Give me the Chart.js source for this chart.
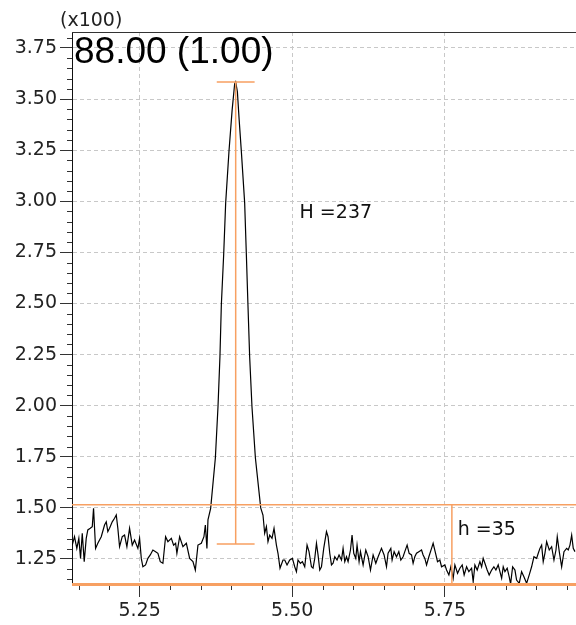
<!DOCTYPE html>
<html>
<head>
<meta charset="utf-8">
<script src="https://cdn.jsdelivr.net/npm/chart.js"></script>
<style>
  html, body { margin: 0; padding: 0; background: #fff; }
  #wrap { width: 576px; height: 625px; }
</style>
</head>
<body>
<div id="wrap"><canvas id="chrom" width="576" height="625"></canvas></div>
<script>
// chromatogram trace, intensity in units of x100
const retentionTime = [
  5.1397,5.1434,5.1472,5.1505,5.1533,5.1561,5.1593,5.1626,5.1652,5.1692,
  5.1725,5.1746,5.1779,5.1816,5.1872,5.1926,5.1954,5.198,5.2008,5.2052,
  5.209,5.2118,5.2144,5.2172,5.2216,5.2254,5.2292,5.2336,5.238,5.2418,
  5.2472,5.25,5.2528,5.2554,5.2598,5.2636,5.2675,5.2718,5.2762,5.28,
  5.2839,5.2882,5.2926,5.2964,5.302,5.3057,5.309,5.3111,5.3156,
  5.321,5.3266,5.332,5.3374,5.3413,5.3456,5.3511,5.3554,5.3577,5.3603,5.362,5.3664,
  5.3741,5.3784,5.3816,5.3839,5.3877,5.391,5.3964,5.4016,5.4057,5.4074,
  5.4102,5.4131,5.4167,5.4221,5.4249,5.4275,5.4303,5.4341,5.4397,5.4484,
  5.4521,5.4549,5.4577,5.4603,5.4631,5.4669,5.4702,5.4741,5.4767,5.48,5.4849,
  5.4877,5.4915,5.4959,5.5003,5.5041,5.5069,5.5095,5.5134,5.5167,5.5205,
  5.5243,5.5275,5.5315,5.5341,5.5369,5.5397,5.5423,5.5451,5.5479,5.5516,
  5.5561,5.5587,5.5615,5.5643,5.5669,5.5697,5.5734,5.5767,5.5807,5.5833,
  5.5861,5.5889,5.5915,5.5954,5.598,5.6008,5.6041,5.6062,5.6095,5.6118,
  5.6161,5.6205,5.6243,5.6282,5.6325,5.6369,5.6407,
  5.6462,5.6505,5.6544,5.657,5.6615,5.6636,5.6669,5.6708,5.6746,5.6779,
  5.6816,5.6844,5.6882,5.6915,5.6954,5.698,5.7008,5.7036,5.7074,5.7118,
  5.7144,5.7172,5.72,5.7238,5.7282,5.7308,5.7348,5.738,5.7418,5.7446,
  5.75,5.7528,5.7566,5.7598,5.7636,5.7664,5.7708,5.7746,5.7784,5.7816,
  5.7856,5.7893,
  5.7938,5.7964,5.7992,5.803,5.8074,5.8102,5.8128,5.8156,5.8193,5.8226,
  5.8266,5.8303,5.8336,5.8374,5.8402,5.843,5.8456,5.8484,5.8521,5.8554,
  5.8577,5.861,5.8648,5.8675,5.8718,5.8757,5.8795,5.8839,5.8882,5.8921,
  5.8959,5.9003,5.903,5.9057,5.9085,5.9111,5.9139,5.9167,5.921,5.9249,
  5.9287,5.932,5.9341,5.9374,5.9413,5.9451,5.9495,5.9521,5.9549,5.9577,
  5.9603,5.9631
];
const intensity = [
  1.318,1.359,1.302,1.351,1.253,1.376,1.237,1.351,1.392,1.400,
  1.408,1.498,1.302,1.327,1.359,1.416,1.432,1.384,1.400,1.432,
  1.449,1.465,1.400,1.310,1.359,1.367,1.310,1.400,1.318,1.343,
  1.302,1.351,1.253,1.212,1.221,1.253,1.270,1.294,1.286,1.278,
  1.237,1.229,1.359,1.335,1.351,1.318,1.327,1.278,1.359,
  1.310,1.327,1.253,1.237,1.196,1.318,1.327,1.359,1.416,1.302,1.441,1.498,
  1.744,1.994,2.238,2.493,2.737,2.992,3.243,3.447,3.574,3.584,
  3.535,3.398,3.243,2.992,2.737,2.493,2.238,1.994,1.744,1.500,
  1.465,1.376,1.408,1.335,1.367,1.351,1.400,1.318,1.278,1.205,1.245,
  1.245,1.221,1.245,1.253,1.212,1.188,1.245,1.229,1.237,1.212,
  1.318,1.286,1.212,1.205,1.253,1.327,1.270,1.196,1.212,1.302,
  1.384,1.359,1.278,1.221,1.229,1.261,1.245,1.270,1.245,1.302,
  1.237,1.261,1.237,1.294,1.367,1.278,1.253,1.318,1.237,1.286,
  1.221,1.294,1.261,1.196,1.270,1.229,1.261,
  1.302,1.270,1.212,1.278,1.302,1.245,1.286,1.261,1.286,1.245,
  1.261,1.286,1.318,1.278,1.270,1.229,1.261,1.278,1.286,1.294,
  1.270,1.253,1.221,1.261,1.302,1.327,1.278,1.237,1.245,1.212,
  1.221,1.196,1.172,1.212,1.156,1.221,1.180,1.205,1.221,1.172,
  1.212,1.188,
  1.205,1.139,1.221,1.196,1.237,1.212,1.253,1.229,1.196,1.172,
  1.196,1.212,1.196,1.221,1.188,1.156,1.212,1.188,1.205,1.163,
  1.128,1.212,1.196,1.147,1.131,1.188,1.163,1.131,1.172,1.212,
  1.261,1.253,1.278,1.302,1.318,1.237,1.278,1.335,1.294,1.310,
  1.245,1.294,1.359,1.286,1.212,1.286,1.302,1.294,1.318,1.367,
  1.302,1.286
];

const xTicks = [5.25, 5.50, 5.75];
const yTicks = [1.25, 1.50, 1.75, 2.00, 2.25, 2.50, 2.75, 3.00, 3.25, 3.50, 3.75];

// peak / noise annotation
const peakX = 5.4074, peakTop = 3.584, peakBase = 1.323, capHalf = 0.031;
const noiseTop = 1.515, noiseBottom = 1.125, noiseX = 5.7615;
const peakLabel = 'H =237', noiseLabel = 'h =35';
const peakLabelPos = [5.512, 2.943], noiseLabelPos = [5.771, 1.392];
const title = '88.00 (1.00)', yScaleNote = '(x100)';

const ORANGE = '#f7a062';
const TICK_FONT = '"DejaVu Sans", Verdana, sans-serif';

const overlay = {
  id: 'overlay',
  afterDatasetsDraw(chart) {
    const {ctx, chartArea: a, scales: {x, y}} = chart;
    ctx.save();
    // minor ticks every 0.05
    ctx.strokeStyle = '#333';
    ctx.lineWidth = 1;
    ctx.beginPath();
    for (let k = Math.ceil(y.min / 0.05); k * 0.05 <= y.max; k++) {
      if (k % 5 === 0) continue;
      const py = Math.round(y.getPixelForValue(k * 0.05)) + 0.5;
      ctx.moveTo(a.left - 5, py); ctx.lineTo(a.left, py);
    }
    for (let k = Math.ceil(x.min / 0.05); k * 0.05 <= x.max; k++) {
      if (k % 5 === 0) continue;
      const px = Math.round(x.getPixelForValue(k * 0.05)) + 0.5;
      ctx.moveTo(px, a.bottom); ctx.lineTo(px, a.bottom + 5);
    }
    // top frame
    ctx.moveTo(a.left, a.top + 0.5); ctx.lineTo(a.right, a.top + 0.5);
    ctx.stroke();

    // orange marks
    ctx.strokeStyle = ORANGE;
    ctx.lineWidth = 1.5;
    const hx = x.getPixelForValue(peakX);
    const ht = y.getPixelForValue(peakTop), hb = y.getPixelForValue(peakBase);
    const cw = x.getPixelForValue(peakX + capHalf) - hx;
    const nt = y.getPixelForValue(noiseTop), nb = y.getPixelForValue(noiseBottom);
    const nx = x.getPixelForValue(noiseX);
    ctx.beginPath();
    ctx.moveTo(hx, ht); ctx.lineTo(hx, hb);
    ctx.moveTo(hx - cw, ht); ctx.lineTo(hx + cw, ht);
    ctx.moveTo(hx - cw, hb); ctx.lineTo(hx + cw, hb);
    ctx.moveTo(a.left, nt); ctx.lineTo(a.right, nt);
    ctx.moveTo(nx, nt); ctx.lineTo(nx, nb);
    ctx.stroke();
    ctx.lineWidth = 3;
    ctx.beginPath();
    ctx.moveTo(a.left, nb); ctx.lineTo(a.right, nb);
    ctx.stroke();

    // labels
    ctx.fillStyle = '#111';
    ctx.font = '19px ' + TICK_FONT;
    ctx.textAlign = 'left';
    ctx.textBaseline = 'middle';
    ctx.fillText(peakLabel, x.getPixelForValue(peakLabelPos[0]), y.getPixelForValue(peakLabelPos[1]));
    ctx.fillText(noiseLabel, x.getPixelForValue(noiseLabelPos[0]), y.getPixelForValue(noiseLabelPos[1]));
    ctx.font = '19px ' + TICK_FONT;
    ctx.fillStyle = '#222';
    ctx.fillText(yScaleNote, 60, 21);
    ctx.font = '37px "Liberation Sans", Arial, sans-serif';
    ctx.fillStyle = '#000';
    ctx.textBaseline = 'alphabetic';
    ctx.fillText(title, 74, 63);
    ctx.restore();
  }
};

const isMajor = v => Math.abs(Math.round(v / 0.25) * 0.25 - v) < 1e-6;

new Chart(document.getElementById('chrom'), {
  type: 'line',
  data: {
    datasets: [{
      data: retentionTime.map((t, i) => ({x: t, y: intensity[i]})),
      borderColor: '#000',
      borderWidth: 1.2,
      pointRadius: 0,
      tension: 0,
      fill: false
    }]
  },
  options: {
    responsive: false,
    animation: false,
    events: [],
    layout: { padding: { top: 32, right: 0, left: 0, bottom: 0 } },
    plugins: { legend: { display: false }, tooltip: { enabled: false } },
    scales: {
      x: {
        type: 'linear',
        min: 5.1393, max: 5.9648,
        afterBuildTicks: s => { s.ticks = xTicks.map(v => ({value: v})); },
        afterFit: s => { s.height = 40; },
        ticks: {
          autoSkip: false, padding: 3, color: '#222',
          font: { family: TICK_FONT, size: 19 },
          callback: v => v.toFixed(2)
        },
        grid: {
          color: c => isMajor(c.tick.value) ? '#c8c8c8' : 'transparent',
          tickColor: '#333', tickLength: 12, lineWidth: 1
        },
        border: { display: true, color: '#333', dash: [4, 3] }
      },
      y: {
        min: 1.1228, max: 3.828,
        afterBuildTicks: s => { s.ticks = yTicks.map(v => ({value: v})); },
        afterFit: s => { s.width = 72; },
        ticks: {
          autoSkip: false, padding: 3, color: '#222',
          font: { family: TICK_FONT, size: 19 },
          callback: v => v.toFixed(2)
        },
        grid: {
          color: c => isMajor(c.tick.value) ? '#c8c8c8' : 'transparent',
          tickColor: '#333', tickLength: 12, lineWidth: 1
        },
        border: { display: true, color: '#111', width: 1, dash: [4, 3] }
      }
    }
  },
  plugins: [overlay]
});
</script>
</body>
</html>
